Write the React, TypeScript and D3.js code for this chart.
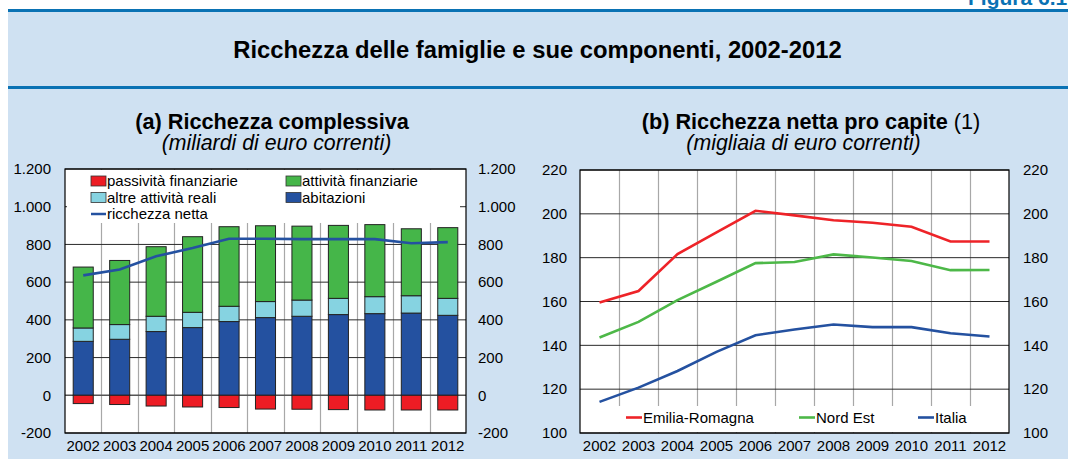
import React from 'react';
import * as d3 from 'd3';

const years = ['2002', '2003', '2004', '2005', '2006', '2007', '2008', '2009', '2010', '2011', '2012'];

// (a) Ricchezza complessiva (miliardi di euro correnti)
const abitazioni = [286, 297, 338, 359, 391, 412, 419, 428, 433, 436, 424];
const altreAttivitaReali = [71, 78, 81, 81, 81, 85, 86, 86, 90, 92, 90];
const attivitaFinanziarie = [323, 340, 369, 401, 422, 402, 392, 387, 382, 355, 375];
const passivitaFinanziarie = [-44, -49, -57, -62, -65, -73, -74, -76, -78, -78, -78];
const ricchezzaNetta = [636, 667, 737, 781, 830, 830, 828, 828, 828, 806, 812];
const leftTicks = [-200, 0, 200, 400, 600, 800, 1000, 1200];

// (b) Ricchezza netta pro capite (migliaia di euro correnti)
const emiliaRomagna = [159.5, 164.8, 181.6, 191.5, 201.4, 199.3, 197.1, 195.9, 194.1, 187.4, 187.4];
const nordEst = [143.6, 150.7, 160.6, 169.0, 177.5, 178.0, 181.5, 180.1, 178.5, 174.3, 174.4];
const italia = [114.2, 120.7, 128.3, 137.0, 144.6, 147.2, 149.5, 148.3, 148.3, 145.5, 144.0];
const rightTicks = [100, 120, 140, 160, 180, 200, 220];

const C = {
  red: '#ED1C24',
  green: '#45B649',
  light: '#86D3E1',
  dark: '#2451A0',
  lineRed: '#EE2328',
  lineGreen: '#4DB848',
  panel: '#CFE1F2',
  rule: '#0A72B4',
  vgrid: '#A8A8A8',
  hgrid: '#2a2a2a',
};

const FONT = "Arial, 'Liberation Sans', Helvetica, sans-serif";
const itLocale = d3.formatLocale({ decimal: ',', thousands: '.', grouping: [3], currency: ['€', ''], minus: '-' });
const fmt = itLocale.format(',d');

function LeftChart() {
  const x0 = 65, x1 = 466, yTop = 169, yBot = 433;
  const x = d3.scaleBand<string>().domain(years).range([x0, x1]).paddingInner(0.45).paddingOuter(0.225);
  const y = d3.scaleLinear().domain([-200, 1200]).range([yBot, yTop]);
  const step = x.step();
  const cx = (yr: string) => (x(yr) as number) + x.bandwidth() / 2;

  const stackData = years.map((yr, i) => ({
    year: yr,
    abitazioni: abitazioni[i],
    altre: altreAttivitaReali[i],
    fin: attivitaFinanziarie[i],
  }));
  const stack = d3.stack<any>().keys(['abitazioni', 'altre', 'fin'])(stackData);
  const colors: Record<string, string> = { abitazioni: C.dark, altre: C.light, fin: C.green };

  const line = d3.line<number>().x((_, i) => cx(years[i])).y((d) => y(d));

  const legendItems = [
    { label: 'passività finanziarie', color: C.red, col: 0, row: 0 },
    { label: 'attività finanziarie', color: C.green, col: 1, row: 0 },
    { label: 'altre attività reali', color: C.light, col: 0, row: 1 },
    { label: 'abitazioni', color: C.dark, col: 1, row: 1 },
  ];
  const colX = [91, 286];
  const rowY = [181, 197.5, 214];

  return (
    <g>
      <rect x={x0} y={yTop} width={x1 - x0} height={yBot - yTop} fill="#fff" />
      {years.slice(1).map((_, i) => {
        const xx = Math.round(x0 + step * (i + 1)) + 0.5;
        return <line key={'v' + i} x1={xx} x2={xx} y1={yTop} y2={yBot} stroke={C.vgrid} strokeWidth={1.2} />;
      })}
      {leftTicks.map((t) => (
        <line key={'h' + t} x1={x0} x2={x1} y1={y(t)} y2={y(t)} stroke={t === 0 ? '#555' : C.hgrid} strokeWidth={t === 0 ? 1.6 : 1} />
      ))}
      {/* legend background */}
      <rect x={67} y={yTop + 1} width={393} height={53} fill="#fff" />
      {legendItems.map((it) => (
        <g key={it.label}>
          <rect x={colX[it.col]} y={rowY[it.row] - 5} width={15} height={10} fill={it.color} stroke="#333" strokeWidth={0.8} />
          <text x={colX[it.col] + 16} y={rowY[it.row]} dy="0.35em" fontSize={15} fontFamily={FONT} fill="#000">{it.label}</text>
        </g>
      ))}
      <line x1={colX[0]} x2={colX[0] + 15} y1={rowY[2]} y2={rowY[2]} stroke={C.dark} strokeWidth={2.5} />
      <text x={colX[0] + 16} y={rowY[2]} dy="0.35em" fontSize={15} fontFamily={FONT} fill="#000">ricchezza netta</text>

      {stack.map((layer) => (
        <g key={layer.key}>
          {layer.map((d, i) => (
            <rect key={i} x={x(years[i])} y={y(d[1])} width={x.bandwidth()} height={y(d[0]) - y(d[1])}
              fill={colors[layer.key]} stroke="#222" strokeWidth={1} />
          ))}
        </g>
      ))}
      {passivitaFinanziarie.map((v, i) => (
        <rect key={'p' + i} x={x(years[i])} y={y(0)} width={x.bandwidth()} height={y(v) - y(0)}
          fill={C.red} stroke="#222" strokeWidth={1} />
      ))}
      <path d={line(ricchezzaNetta) as string} fill="none" stroke={C.dark} strokeWidth={2.6} />
      <rect x={x0} y={yTop} width={x1 - x0} height={yBot - yTop} fill="none" stroke="#000" strokeWidth={1.2} />

      {leftTicks.map((t) => (
        <g key={'l' + t}>
          <text x={51} y={y(t)} dy="0.35em" textAnchor="end" fontSize={15} fontFamily={FONT}>{fmt(t)}</text>
          <text x={478} y={y(t)} dy="0.35em" textAnchor="start" fontSize={15} fontFamily={FONT}>{fmt(t)}</text>
        </g>
      ))}
      {years.map((yr) => (
        <text key={'x' + yr} x={cx(yr)} y={446} dy="0.35em" textAnchor="middle" fontSize={15} fontFamily={FONT}>{yr}</text>
      ))}
    </g>
  );
}

function RightChart() {
  const x0 = 580, x1 = 1009, yTop = 170, yBot = 433;
  const x = d3.scalePoint<string>().domain(years).range([x0, x1]).padding(0.5);
  const y = d3.scaleLinear().domain([100, 220]).range([yBot, yTop]);
  const step = x.step();
  const line = d3.line<number>().x((_, i) => x(years[i]) as number).y((d) => y(d));

  const series = [
    { name: 'Emilia-Romagna', data: emiliaRomagna, color: C.lineRed, lx: 626 },
    { name: 'Nord Est', data: nordEst, color: C.lineGreen, lx: 799 },
    { name: 'Italia', data: italia, color: C.dark, lx: 918 },
  ];
  const legY = 417.5;

  return (
    <g>
      <rect x={x0} y={yTop} width={x1 - x0} height={yBot - yTop} fill="#fff" />
      {years.slice(1).map((_, i) => {
        const xx = Math.round(x0 + step * (i + 1)) + 0.5;
        return <line key={'v' + i} x1={xx} x2={xx} y1={yTop} y2={yBot} stroke={C.vgrid} strokeWidth={1.2} />;
      })}
      {rightTicks.map((t) => (
        <line key={'h' + t} x1={x0} x2={x1} y1={y(t)} y2={y(t)} stroke={C.hgrid} strokeWidth={1} />
      ))}
      <rect x={582} y={406} width={425} height={26} fill="#fff" />
      {series.map((s) => (
        <g key={s.name}>
          <path d={line(s.data) as string} fill="none" stroke={s.color} strokeWidth={2.6} />
          <line x1={s.lx} x2={s.lx + 16} y1={legY} y2={legY} stroke={s.color} strokeWidth={2.6} />
          <text x={s.lx + 17} y={legY} dy="0.35em" fontSize={15} fontFamily={FONT}>{s.name}</text>
        </g>
      ))}
      <rect x={x0} y={yTop} width={x1 - x0} height={yBot - yTop} fill="none" stroke="#000" strokeWidth={1.2} />
      {rightTicks.map((t) => (
        <g key={'l' + t}>
          <text x={567} y={y(t)} dy="0.35em" textAnchor="end" fontSize={15} fontFamily={FONT}>{t}</text>
          <text x={1023} y={y(t)} dy="0.35em" textAnchor="start" fontSize={15} fontFamily={FONT}>{t}</text>
        </g>
      ))}
      {years.map((yr) => (
        <text key={'x' + yr} x={x(yr)} y={446} dy="0.35em" textAnchor="middle" fontSize={15} fontFamily={FONT}>{yr}</text>
      ))}
    </g>
  );
}

export default function App() {
  return (
    <div style={{ position: 'fixed', left: 0, top: 0 }}>
      <svg width={1068} height={459} style={{ display: 'block' }}>
        <rect x={0} y={0} width={1068} height={459} fill="#fff" />
        <text x={968} y={5} textAnchor="start" fontSize={21} fontWeight="bold" fontFamily={FONT} fill={C.rule}>Figura 6.1</text>
        <rect x={8} y={9} width={1060} height={450} fill={C.panel} />
        <rect x={8} y={9} width={1060} height={3} fill={C.rule} />
        <rect x={8} y={86} width={1060} height={3} fill={C.rule} />
        <text x={537.5} y={50} dy="0.35em" textAnchor="middle" fontSize={23.8} fontWeight="bold" fontFamily={FONT}>
          Ricchezza delle famiglie e sue componenti, 2002-2012
        </text>
        <text x={272} y={121} dy="0.35em" textAnchor="middle" fontSize={21.7} fontWeight="bold" fontFamily={FONT}>
          (a) Ricchezza complessiva
        </text>
        <text x={276.5} y={143} dy="0.35em" textAnchor="middle" fontSize={21.3} fontStyle="italic" fontFamily={FONT}>
          (miliardi di euro correnti)
        </text>
        <text x={811} y={121} dy="0.35em" textAnchor="middle" fontSize={21.7} fontFamily={FONT}>
          <tspan fontWeight="bold">(b) Ricchezza netta pro capite</tspan>
          <tspan> (1)</tspan>
        </text>
        <text x={803.5} y={143} dy="0.35em" textAnchor="middle" fontSize={21.3} fontStyle="italic" fontFamily={FONT}>
          (migliaia di euro correnti)
        </text>
        <LeftChart />
        <RightChart />
      </svg>
    </div>
  );
}
